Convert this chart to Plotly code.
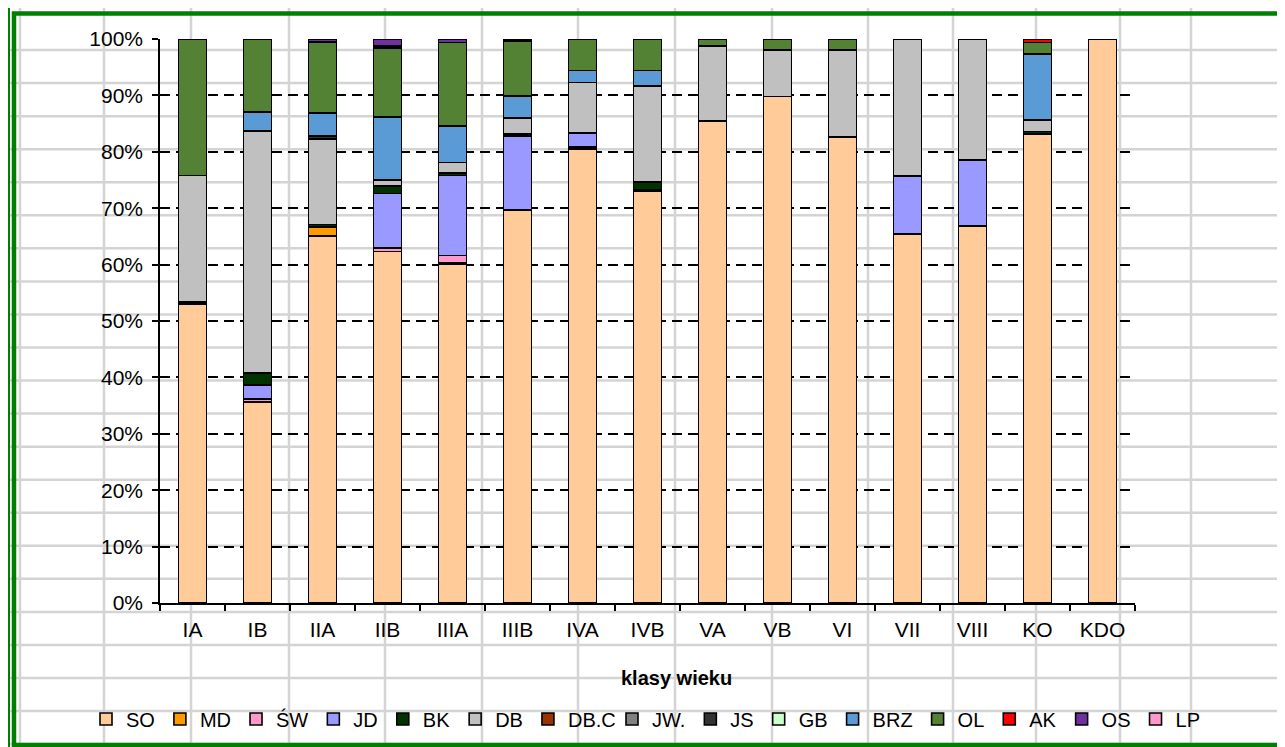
import plotly.graph_objects as go

categories = ["IA", "IB", "IIA", "IIB", "IIIA", "IIIB", "IVA", "IVB", "VA", "VB", "VI", "VII", "VIII", "KO", "KDO"]

SO   = [53.0, 35.6, 65.1, 62.3, 60.0, 69.7, 80.5, 73.0, 85.5, 89.8, 82.6, 65.4, 66.8, 83.2, 100.0]
MD   = [0, 0, 1.6, 0, 0.3, 0, 0, 0.3, 0, 0, 0, 0, 0, 0, 0]
SW   = [0, 0.6, 0, 0.6, 1.3, 0, 0.4, 0, 0, 0, 0, 0, 0, 0, 0]
JD   = [0, 2.5, 0, 9.7, 14.2, 13.1, 2.4, 0, 0, 0, 0, 10.3, 11.7, 0, 0]
BK   = [0.4, 2.1, 0.4, 1.3, 0.4, 0.4, 0, 1.3, 0, 0, 0, 0, 0, 0.4, 0]
DB   = [22.4, 42.9, 15.2, 1.1, 1.9, 2.8, 9.0, 17.1, 13.3, 8.3, 15.4, 24.3, 21.5, 2.0, 0]
DBC  = [0] * 15
JW   = [0] * 15
JS   = [0, 0, 0.5, 0, 0, 0, 0, 0, 0, 0, 0, 0, 0, 0, 0]
GB   = [0] * 15
BRZ  = [0, 3.4, 4.1, 11.2, 6.5, 3.9, 2.1, 2.7, 0, 0, 0, 0, 0, 11.7, 0]
OL   = [24.2, 12.9, 12.6, 12.2, 14.8, 9.7, 5.6, 5.6, 1.2, 1.9, 2.0, 0, 0, 2.1, 0]
AK   = [0, 0, 0, 0.4, 0, 0, 0, 0, 0, 0, 0, 0, 0, 0.6, 0]
OS   = [0, 0, 0.5, 1.2, 0.6, 0.4, 0, 0, 0, 0, 0, 0, 0, 0, 0]
LP   = [0] * 15

series_names = ["SO", "MD", "ŚW", "JD", "BK", "DB", "DB.C", "JW.", "JS", "GB", "BRZ", "OL", "AK", "OS", "LP"]
series_values = [SO, MD, SW, JD, BK, DB, DBC, JW, JS, GB, BRZ, OL, AK, OS, LP]
series_colors = ["#FFCC99", "#FF9900", "#FF99CC", "#9999FF", "#003300", "#C0C0C0", "#993300",
                 "#808080", "#333333", "#CCFFCC", "#5B9BD5", "#548235", "#FF0000", "#7030A0", "#FF99CC"]
# first 7 series in legend 1, the rest in legend 2 (one visual row)
series_legend = ["legend"] * 7 + ["legend2"] * 8

y_ticks = list(range(0, 101, 10))
y_ticklabels = [f"{v}%" for v in y_ticks]

W, H = 1285, 747
OFF = 8  # default page body margin
L, R, T, B = 160, 1135, 39, 603  # plot area in page pixels

fig = go.Figure()
for name, vals, col, lg in zip(series_names, series_values, series_colors, series_legend):
    fig.add_trace(go.Bar(
        x=categories,
        y=[v if v else None for v in vals],
        name=name,
        legend=lg,
        marker=dict(color=col, line=dict(color="black", width=1.6)),
    ))

def px_x(p):
    return (p - L) / (R - L)

def px_y(p):
    return (B - p) / (B - T)

shapes = []
# spreadsheet cell grid behind the chart
for gx in [20, 104, 191, 289, 385, 482, 578, 675, 772, 868, 953, 1036, 1120, 1191]:
    shapes.append(dict(type="line", xref="paper", yref="paper", x0=px_x(gx), x1=px_x(gx),
                       y0=px_y(0), y1=px_y(H + 20), line=dict(color="#D4D4D4", width=2.5), layer="below"))
for k in range(1, 23):
    gy = 17 + 33.05 * k
    shapes.append(dict(type="line", xref="paper", yref="paper", x0=px_x(0), x1=px_x(W + 20),
                       y0=px_y(gy), y1=px_y(gy), line=dict(color="#D4D4D4", width=2.5), layer="below"))
# green frame
shapes.append(dict(type="rect", xref="paper", yref="paper", x0=px_x(9), x1=px_x(1400),
                   y0=px_y(7), y1=px_y(800), line=dict(color="#008000", width=2), layer="above"))
shapes.append(dict(type="rect", xref="paper", yref="paper", x0=px_x(14), x1=px_x(1400),
                   y0=px_y(13.5), y1=px_y(745), line=dict(color="#008000", width=4.5), layer="above"))

legend_common = dict(orientation="h", yanchor="middle", y=px_y(719), xanchor="left",
                     traceorder="normal", font=dict(size=20), bgcolor="rgba(0,0,0,0)",
                     itemclick=False, borderwidth=0)

fig.update_layout(
    width=W, height=H,
    margin=dict(l=L - OFF, r=W - (R - OFF), t=T - OFF, b=H - (B - OFF), autoexpand=False),
    barmode="stack",
    bargap=0.57,
    paper_bgcolor="white",
    plot_bgcolor="rgba(0,0,0,0)",
    font=dict(family="Liberation Sans, Arial, sans-serif", color="black", size=21),
    showlegend=True,
    legend=dict(x=px_x(86), **legend_common),
    legend2=dict(x=px_x(612), **legend_common),
    shapes=shapes,
    annotations=[dict(text="<b>klasy wieku</b>", xref="paper", yref="paper",
                      x=px_x(676), y=px_y(678), xanchor="center", yanchor="middle",
                      showarrow=False, font=dict(size=20))],
)

fig.update_yaxes(range=[0, 100], tickvals=y_ticks, ticktext=y_ticklabels,
                 showgrid=True, gridcolor="black", gridwidth=2, griddash="10px,6px",
                 zeroline=False, showline=True, linecolor="black", linewidth=1.5,
                 ticks="outside", ticklen=6, tickcolor="black", tickwidth=1.5, automargin=False,
                 ticklabelstandoff=5)
fig.update_xaxes(showgrid=False, showline=True, linecolor="black", linewidth=1.5,
                 ticks="outside", tickson="boundaries", ticklen=6, tickcolor="black", tickwidth=1.5,
                 range=[-0.5, 14.5], automargin=False, ticklabelstandoff=7)

fig.write_html("out.html")
